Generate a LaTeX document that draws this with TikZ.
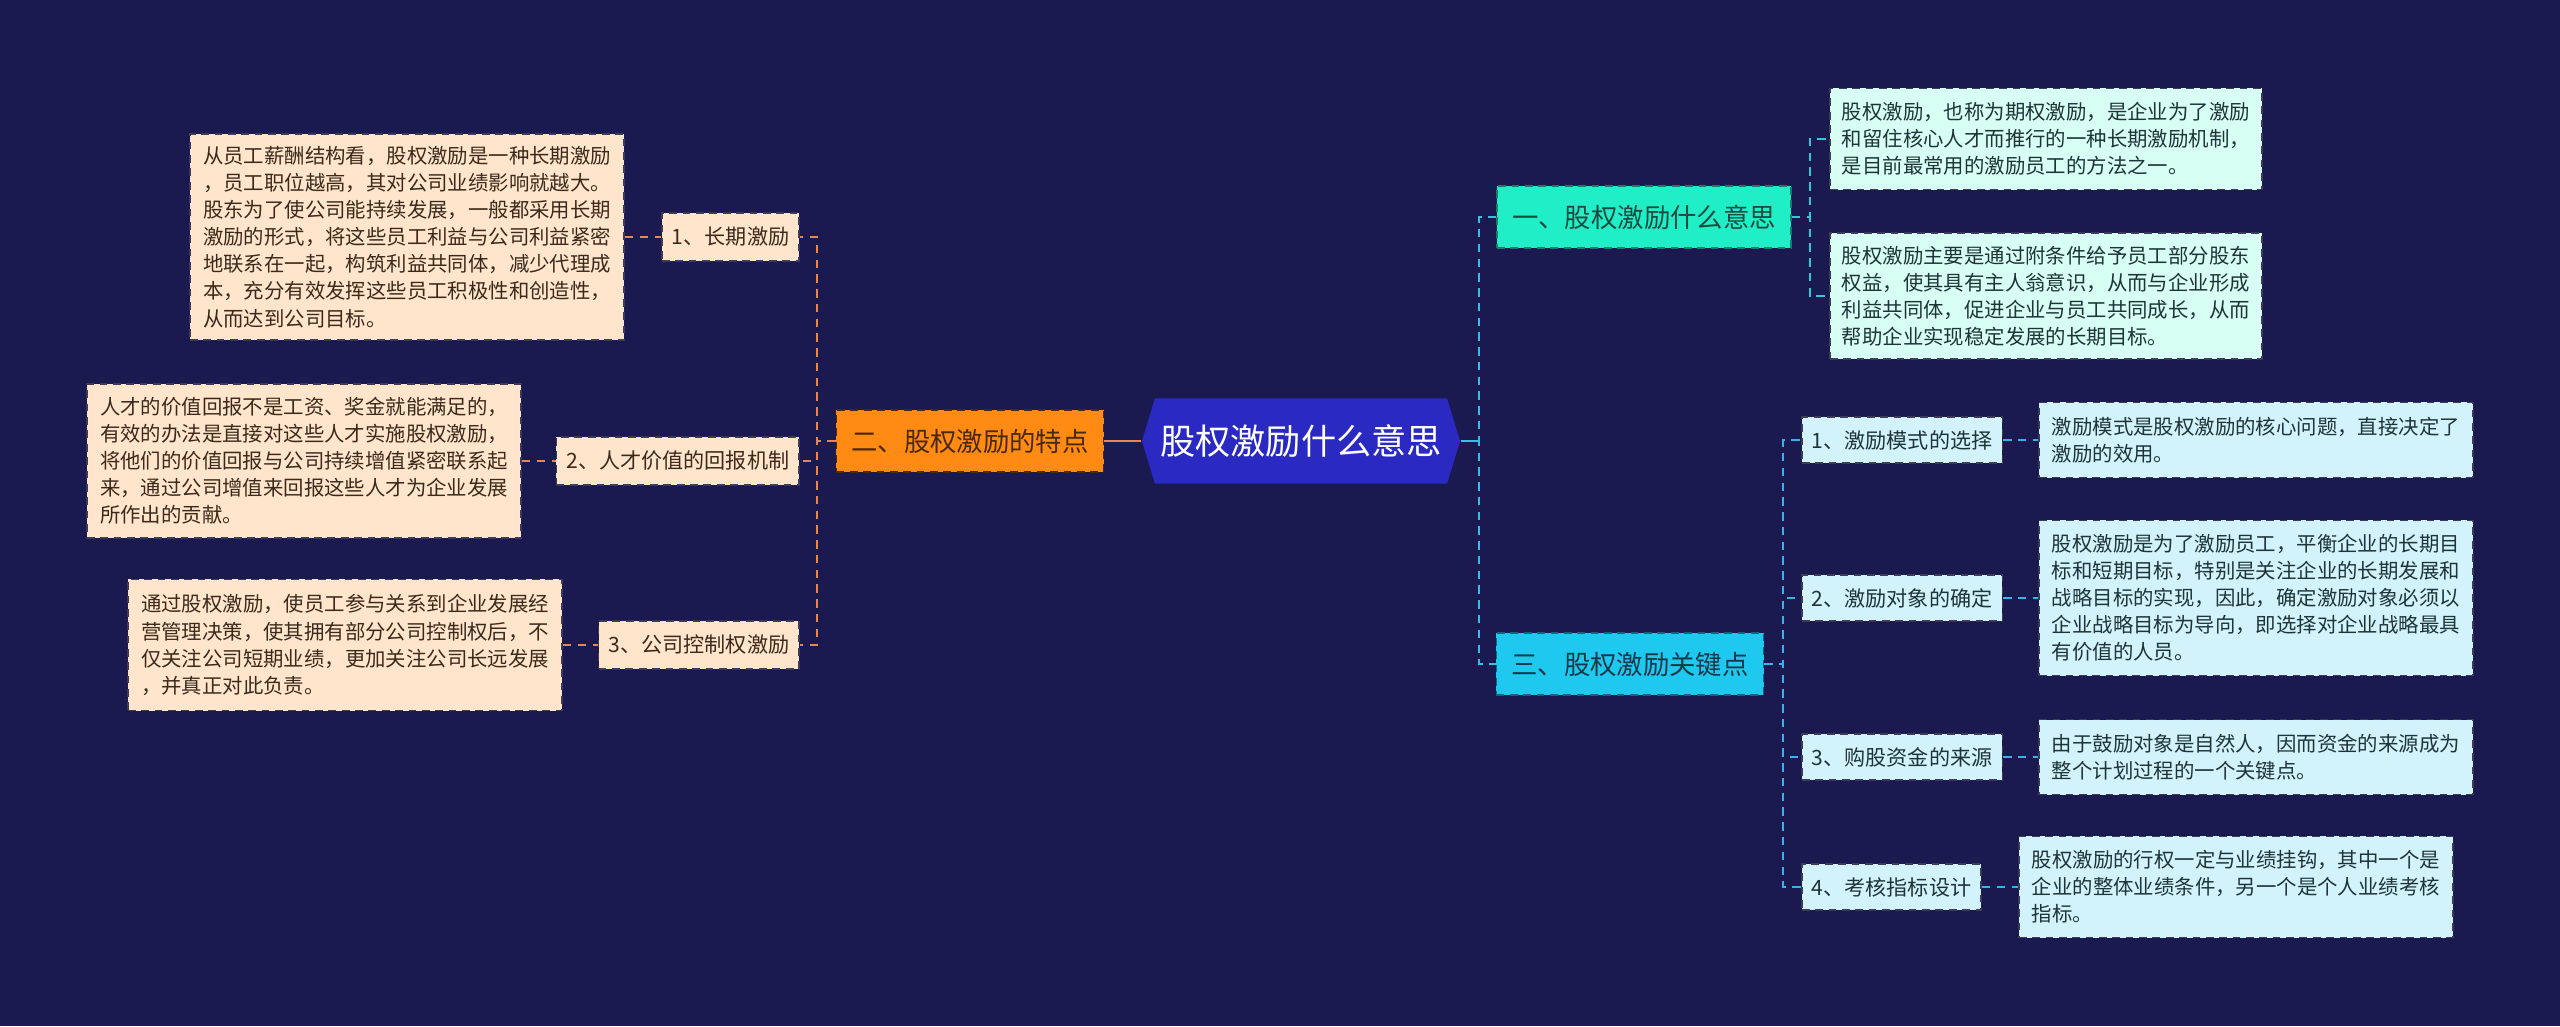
\documentclass[tikz,border=0pt]{standalone}
\usepackage{fontspec}
\setmainfont{Noto Sans CJK SC}
\usetikzlibrary{shapes.symbols}
\definecolor{bg}{HTML}{1A1950}
\definecolor{hexfill}{HTML}{2A2AC2}
\definecolor{ofill}{HTML}{FF8A14}
\definecolor{otext}{HTML}{4A2808}
\definecolor{lfill}{HTML}{FFE5CB}
\definecolor{ltext}{HTML}{3B2A1C}
\definecolor{lline}{HTML}{E8864E}
\definecolor{afill}{HTML}{20EEC6}
\definecolor{atext}{HTML}{1A4A40}
\definecolor{kfill}{HTML}{1EC8EE}
\definecolor{ktext}{HTML}{163848}
\definecolor{rfill}{HTML}{D8FFF4}
\definecolor{sfill}{HTML}{D2F3FB}
\definecolor{rtext}{HTML}{1E3438}
\definecolor{cline}{HTML}{2FC2E2}
\definecolor{aline}{HTML}{2CCAD6}
\definecolor{kline}{HTML}{34B4E8}
\definecolor{bord}{HTML}{3C3C58}
\begin{document}
\begin{tikzpicture}[x=0.01cm,y=-0.01cm,
  box/.style={dashed, dash pattern=on 2.2pt off 1.6pt, line width=0.45pt, inner sep=0pt, draw=bord},
  bodyfont/.style={font=\fontsize{5.8pt}{7.7pt}\selectfont},
  labfont/.style={font=\fontsize{6pt}{7.7pt}\selectfont},
  lbody/.style={box, bodyfont, fill=lfill, text=ltext, align=left, minimum width=4.34cm, anchor=east},
  llabel/.style={box, labfont, fill=lfill, text=ltext, inner xsep=0.1cm, minimum height=0.48cm, anchor=east},
  rbody/.style={box, bodyfont, fill=rfill, text=rtext, align=left, minimum width=4.32cm, anchor=west},
  sbody/.style={box, bodyfont, fill=sfill, text=rtext, align=left, minimum width=4.34cm, anchor=west},
  slabel/.style={box, labfont, fill=sfill, text=rtext, inner xsep=0.1cm, minimum height=0.46cm, anchor=west},
  second/.style={box, font=\fontsize{7.5pt}{9pt}\selectfont, minimum height=0.62cm},
  conn/.style={line width=0.6pt, dashed, dash pattern=on 2.4pt off 1.8pt}
]
\fill[bg] (0,0) rectangle (2560,1026);
\useasboundingbox (0,0) rectangle (2560,1026);

% center
\node[signal, signal to=west and east, signal pointer angle=146, fill=hexfill, inner sep=0pt,
  minimum width=3.18cm, minimum height=0.85cm, text=white,
  font=\fontsize{10pt}{12pt}\selectfont] (C) at (1301,441) {股权激励什么意思};

% left branch
\node[second, fill=ofill, text=otext, draw=otext, minimum width=2.67cm] (O) at (970,441) {二、股权激励的特点};

\node[llabel] (L1) at (800,237) {1、长期激励};
\node[llabel] (L2) at (800,461) {2、人才价值的回报机制};
\node[llabel] (L3) at (800,645) {3、公司控制权激励};

\node[lbody, minimum height=2.06cm] (B1) at (625,237) {从员工薪酬结构看，股权激励是一种长期激励\\，员工职位越高，其对公司业绩影响就越大。\\股东为了使公司能持续发展，一般都采用长期\\激励的形式，将这些员工利益与公司利益紧密\\地联系在一起，构筑利益共同体，减少代理成\\本，充分有效发挥这些员工积极性和创造性，\\从而达到公司目标。};
\node[lbody, minimum height=1.54cm] (B2) at (522,461) {人才的价值回报不是工资、奖金就能满足的，\\有效的办法是直接对这些人才实施股权激励，\\将他们的价值回报与公司持续增值紧密联系起\\来，通过公司增值来回报这些人才为企业发展\\所作出的贡献。};
\node[lbody, minimum height=1.31cm] (B3) at (563,645) {通过股权激励，使员工参与关系到企业发展经\\营管理决策，使其拥有部分公司控制权后，不\\仅关注公司短期业绩，更加关注公司长远发展\\，并真正对此负责。};

% right branch
\node[second, fill=afill, text=atext, draw=atext!70!afill, minimum width=2.94cm] (A) at (1644,217) {一、股权激励什么意思};
\node[second, fill=kfill, text=ktext, draw=ktext!70!kfill, minimum width=2.67cm] (K) at (1630,664) {三、股权激励关键点};

\node[rbody, minimum height=1.01cm] (R1) at (1829,139) {股权激励，也称为期权激励，是企业为了激励\\和留住核心人才而推行的一种长期激励机制，\\是目前最常用的激励员工的方法之一。};
\node[rbody, minimum height=1.26cm] (R2) at (1829,296) {股权激励主要是通过附条件给予员工部分股东\\权益，使其具有主人翁意识，从而与企业形成\\利益共同体，促进企业与员工共同成长，从而\\帮助企业实现稳定发展的长期目标。};

\node[slabel] (SL1) at (1801,440) {1、激励模式的选择};
\node[slabel] (SL2) at (1801,598) {2、激励对象的确定};
\node[slabel] (SL3) at (1801,757) {3、购股资金的来源};
\node[slabel] (SL4) at (1801,887) {4、考核指标设计};

\node[sbody, minimum height=0.75cm] (SB1) at (2038,440) {激励模式是股权激励的核心问题，直接决定了\\激励的效用。};
\node[sbody, minimum height=1.55cm] (SB2) at (2038,598) {股权激励是为了激励员工，平衡企业的长期目\\标和短期目标，特别是关注企业的长期发展和\\战略目标的实现，因此，确定激励对象必须以\\企业战略目标为导向，即选择对企业战略最具\\有价值的人员。};
\node[sbody, minimum height=0.75cm] (SB3) at (2038,757) {由于鼓励对象是自然人，因而资金的来源成为\\整个计划过程的一个关键点。};
\node[sbody, minimum height=1.01cm] (SB4) at (2018,887) {股权激励的行权一定与业绩挂钩，其中一个是\\企业的整体业绩条件，另一个是个人业绩考核\\指标。};

% connectors
\draw[lline, line width=0.7pt] (C.west) -- (O.east);
\foreach \n in {L1,L2,L3}{\draw[conn, lline] (O.west) -- ++(-19,0) |- (\n.east);}
\draw[conn, lline] (B1.east) -- (L1.west);
\draw[conn, lline] (B2.east) -- (L2.west);
\draw[conn, lline] (B3.east) -- (L3.west);

\draw[conn, cline] (C.east) -- ++(18,0) |- (A.west);
\draw[conn, cline] (C.east) -- ++(18,0) |- (K.west);
\draw[cline, line width=0.7pt] (C.east) -- ++(18,0);
\draw[conn, aline] (A.east) -- ++(18,0) |- (R1.west);
\draw[conn, aline] (A.east) -- ++(18,0) |- (R2.west);
\foreach \n in {SL1,SL2,SL3,SL4}{\draw[conn, kline] (K.east) -- ++(19,0) |- (\n.west);}
\draw[conn, kline] (SL1.east) -- (SB1.west);
\draw[conn, kline] (SL2.east) -- (SB2.west);
\draw[conn, kline] (SL3.east) -- (SB3.west);
\draw[conn, kline] (SL4.east) -- (SB4.west);
\end{tikzpicture}
\end{document}
